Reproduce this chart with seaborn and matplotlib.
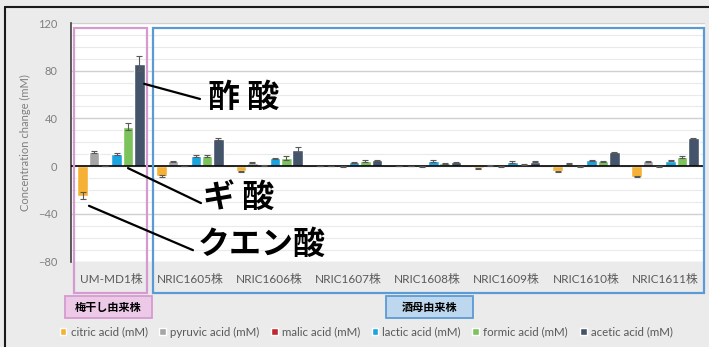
import numpy as np
import pandas as pd
import matplotlib
matplotlib.use("Agg")
import matplotlib.pyplot as plt
from matplotlib.patches import Rectangle
from matplotlib.lines import Line2D
import seaborn as sns

# ---- data -------------------------------------------------------------
strains = ["UM-MD1株", "NRIC1605株", "NRIC1606株", "NRIC1607株",
           "NRIC1608株", "NRIC1609株", "NRIC1610株", "NRIC1611株"]
acids = ["citric acid (mM)", "pyruvic acid (mM)", "malic acid (mM)",
         "lactic acid (mM)", "formic acid (mM)", "acetic acid (mM)"]

citric = [-25.0, -8.5, -4.5, 0.3, 0.2, -1.8, -4.3, -8.8]
pyruvic = [12.0, 4.2, 2.8, 0.3, 0.3, 0.8, 2.0, 3.9]
malic = [0.3, 0.3, 0.5, -0.3, -0.2, -0.2, -0.3, -0.4]
lactic = [10.4, 8.4, 6.5, 3.4, 4.2, 3.4, 4.8, 4.5]
formic = [33.0, 8.2, 7.0, 4.2, 2.2, 1.1, 3.9, 7.6]
acetic = [86.0, 22.7, 13.7, 4.8, 3.1, 3.6, 11.5, 23.2]

citric_err = [3.0, 0.8, 0.8, 0.2, 0.2, 0.5, 0.6, 0.5]
pyruvic_err = [0.7, 0.4, 0.5, 0.2, 0.2, 0.4, 0.5, 0.5]
malic_err = [0.2, 0.2, 0.2, 0.2, 0.2, 0.2, 0.2, 0.2]
lactic_err = [1.0, 0.5, 0.5, 0.4, 0.5, 0.5, 0.5, 0.5]
formic_err = [3.0, 0.7, 1.5, 0.6, 0.5, 0.4, 0.5, 0.7]
acetic_err = [6.0, 0.8, 2.0, 0.6, 0.5, 0.5, 0.7, 0.7]

series = [citric, pyruvic, malic, lactic, formic, acetic]
errors = [citric_err, pyruvic_err, malic_err, lactic_err, formic_err, acetic_err]
colors = ["#F5B135", "#A5A5A5", "#C0282D", "#1BA3E0", "#7CC35B", "#44546A"]

df = pd.DataFrame({
    "strain": strains * len(acids),
    "acid": [a for a in acids for _ in strains],
    "value": [v for s in series for v in s],
})

# ---- style ------------------------------------------------------------
sns.set_theme(style="white")
plt.rcParams["font.family"] = ["Lato", "Noto Sans CJK JP", "DejaVu Sans"]

W, H = 709, 347
fig = plt.figure(figsize=(W / 100, H / 100), dpi=100, facecolor="#EBEBEB")


def fx(x):
    return x / W


def fy(y):
    return 1 - y / H


ax = fig.add_axes([fx(71.4), fy(261.5), fx(704.6) - fx(71.4), fy(23) - fy(261.5)])
ax.set_facecolor("white")

sns.barplot(data=df, x="strain", y="value", hue="acid", hue_order=acids,
            order=strains, palette=colors, width=0.86, gap=0.07,
            errorbar=None, saturation=1, ax=ax, zorder=2)

# error bars on each bar
for cont, vals, errs in zip(ax.containers, series, errors):
    xs = [b.get_x() + b.get_width() / 2 for b in cont]
    ax.errorbar(xs, vals, yerr=errs, fmt="none", ecolor="#595959",
                elinewidth=0.8, capsize=2.2, capthick=0.8, zorder=4)

ax.set_ylim(-80, 120)
ax.set_xlim(-0.5, len(strains) - 0.5)
ax.set_yticks(np.arange(-80, 121, 40))
ax.set_yticks(np.arange(-80, 121, 10), minor=True)
ax.grid(which="minor", axis="y", color="#EAEAEA", lw=0.8, zorder=0)
ax.grid(which="major", axis="y", color="#D0D0D0", lw=1.0, zorder=0)
ax.set_axisbelow(True)
ax.axhline(0, color="black", lw=1.2, zorder=3)

for side in ["top", "right", "bottom"]:
    ax.spines[side].set_visible(False)
ax.spines["left"].set_color("#404040")
ax.spines["left"].set_linewidth(1.2)
ax.tick_params(which="both", length=0)
ax.tick_params(axis="y", labelsize=8, labelcolor="#7F7F7F", pad=10)
ax.tick_params(axis="x", labelsize=8.5, labelcolor="#595959", pad=9)
ax.set_xlabel("")
ax.set_ylabel("Concentration change (mM)", fontsize=8, color="#7F7F7F", labelpad=5)

# legend across the bottom
handles, labels = ax.get_legend_handles_labels()
ax.legend_.remove()
fig.legend(handles, labels, loc="center", bbox_to_anchor=(fx(366), fy(332)),
           ncol=6, frameon=False, fontsize=8.3, labelcolor="#595959",
           handlelength=0.6, handleheight=0.6, handletextpad=0.35,
           columnspacing=1.0)

# group outlines around the strains
pink_edge, pink_fill = "#D59BD0", "#EDC9E8"
blue_edge, blue_fill = "#5B9BD5", "#BDD7EE"
ax.add_patch(Rectangle((-0.47, -106.5), 0.92, 222.0, fill=False,
                       edgecolor=pink_edge, lw=1.6, clip_on=False, zorder=5))
ax.add_patch(Rectangle((0.53, -106.5), 6.96, 222.0, fill=False,
                       edgecolor=blue_edge, lw=1.6, clip_on=False, zorder=5))

# group name tags below the axis
for (x0, x1, text, fc, ec) in [(65, 152, "梅干し由来株", pink_fill, pink_edge),
                                (386, 473, "酒母由来株", blue_fill, blue_edge)]:
    fig.add_artist(Rectangle((fx(x0), fy(318)), fx(x1) - fx(x0), fy(296) - fy(318),
                             transform=fig.transFigure, facecolor=fc,
                             edgecolor=ec, lw=1.3))
    fig.text(fx((x0 + x1) / 2), fy(307), text, ha="center", va="center",
             fontsize=8, fontweight="bold", color="black",
             family=["Noto Sans CJK JP", "DejaVu Sans"])

# callouts naming the acids
callouts = [
    ("酢 酸", (0.42, 69.0), (1.125, 56.3), (1.22, 57.5)),
    ("ギ 酸", (0.215, -1.7), (1.137, -31.0), (1.16, -26.9)),
    ("クエン酸", (-0.278, -33.3), (1.036, -70.5), (1.10, -66.4)),
]
for text, start, end, pos in callouts:
    ax.annotate("", xy=start, xytext=end,
                arrowprops=dict(arrowstyle="-", lw=1.6, color="black",
                                shrinkA=0, shrinkB=0), zorder=6)
    ax.text(pos[0], pos[1], text, ha="left", va="center", fontsize=23,
            fontweight="bold", color="black", zorder=6,
            family=["Noto Sans CJK JP", "DejaVu Sans"])

# frame edges of the panel
fig.add_artist(Line2D([fx(5), 1], [fy(6.7), fy(6.7)], color="#1A1A1A", lw=1.5,
                      transform=fig.transFigure))
fig.add_artist(Line2D([fx(5), fx(5)], [0, fy(6.7)], color="#1A1A1A", lw=1.5,
                      transform=fig.transFigure))

fig.savefig("out.png", dpi=100, facecolor=fig.get_facecolor())
